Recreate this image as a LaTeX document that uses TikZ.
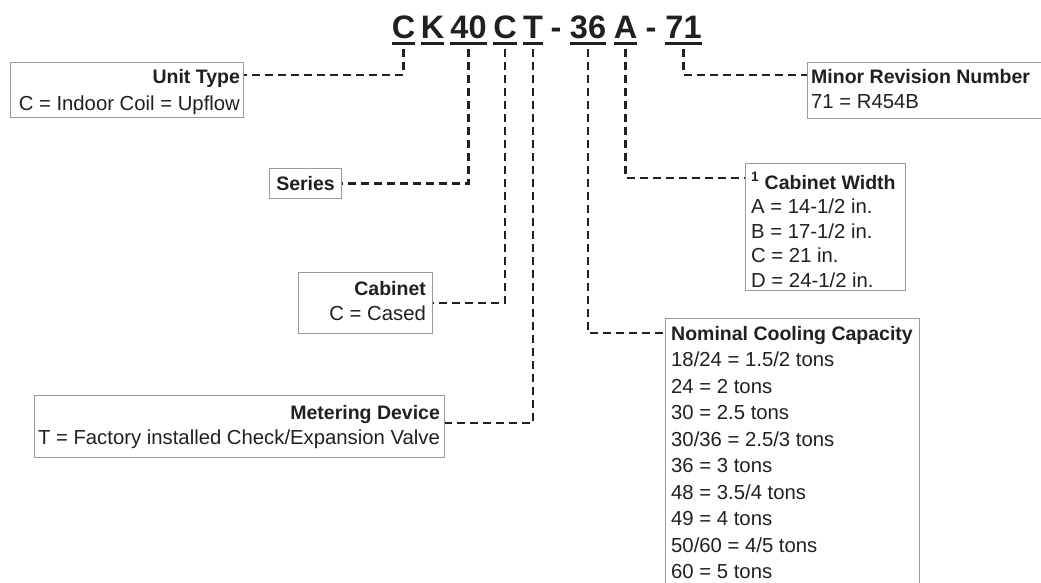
\documentclass[tikz,border=0pt]{standalone}
\usepackage{fontspec}
\setmainfont{Liberation Sans}
\definecolor{ink}{HTML}{231F20}
\definecolor{frame}{HTML}{9A9A9A}
\newcommand\hb{\fontsize{19.5}{25}\selectfont\bfseries}
\tikzset{
  code/.style={anchor=base, inner sep=0pt, text depth=0pt, text=ink,
    font=\fontsize{32.5}{32.5}\selectfont\bfseries},
  uline/.style={draw=ink, line width=2.6pt},
  dl/.style={draw=ink, line width=2.2pt, dash pattern=on 8pt off 5pt},
  boxframe/.style={draw=frame, line width=1.1pt, inner sep=0pt, anchor=north west},
  txt/.style={inner sep=0pt, text=ink},
}
\begin{document}
\begin{tikzpicture}[x=1pt,y=-1pt]
\useasboundingbox (0,0) rectangle (1041,582);
% code letters
\node[code] (c1) at (403.5,38) {C};
\node[code] (c2) at (432.5,38) {K};
\node[code] (c3) at (468.5,38) {40};
\node[code] (c4) at (505,38) {C};
\node[code] (c5) at (533,38) {T};
\node[code] (d1) at (556,38) {-};
\node[code] (c6) at (588,38) {36};
\node[code] (c7) at (625.5,38) {A};
\node[code] (d2) at (651,38) {-};
\node[code] (c8) at (683.5,38) {71};
\foreach \n in {c1,c2,c3,c4,c5,c6,c7,c8}
  \draw[uline] ([yshift=-5.5pt]\n.south west) -- ([yshift=-5.5pt]\n.south east);
% boxes
\node[boxframe, minimum width=233pt, minimum height=55pt] (unit) at (10,62) {};
\node[boxframe, minimum width=72pt, minimum height=30pt] (series) at (269,168) {};
\node[boxframe, minimum width=134pt, minimum height=61pt] (cab) at (298,272) {};
\node[boxframe, minimum width=410pt, minimum height=62pt] (meter) at (34,395) {};
\node[boxframe, minimum width=250pt, minimum height=56pt] (minor) at (807,62) {};
\node[boxframe, minimum width=160pt, minimum height=127pt] (width) at (745,163) {};
\node[boxframe, minimum width=254pt, minimum height=290pt] (nominal) at (665,318) {};
% texts
\node[txt, anchor=north east, align=right, font=\fontsize{20.3}{27}\selectfont]
  (unitT) at ([xshift=-4pt,yshift=-7pt]unit.north east)
  {{\hb Unit Type}\\C = Indoor Coil = Upflow};
\node[txt, font=\hb] (seriesT) at (series.center) {Series};
\node[txt, anchor=north east, align=right, font=\fontsize{20.3}{25}\selectfont]
  (cabT) at ([xshift=-7pt,yshift=-9pt]cab.north east)
  {{\hb Cabinet}\\C = Cased};
\node[txt, anchor=north east, align=right, font=\fontsize{20.3}{25}\selectfont]
  (meterT) at ([xshift=-5pt,yshift=-10pt]meter.north east)
  {{\hb Metering Device}\\T = Factory installed Check/Expansion Valve};
\node[txt, anchor=north west, align=left, font=\fontsize{20.3}{25}\selectfont]
  (minorT) at ([xshift=4pt,yshift=-7pt]minor.north west)
  {{\hb Minor Revision Number}\\71 = R454B};
\node[txt, anchor=north west, align=left, font=\fontsize{20.3}{24.5}\selectfont]
  (widthT) at ([xshift=6pt,yshift=-9pt]width.north west)
  {{\hb \textsuperscript{1} Cabinet Width}\\A = 14-1/2 in.\\B = 17-1/2 in.\\C = 21 in.\\D = 24-1/2 in.};
\node[txt, anchor=north west, align=left, font=\fontsize{20.3}{26.5}\selectfont]
  (nomT) at ([xshift=6pt,yshift=-8pt]nominal.north west)
  {{\hb Nominal Cooling Capacity}\\18/24 = 1.5/2 tons\\24 = 2 tons\\30 = 2.5 tons\\30/36 = 2.5/3 tons\\36 = 3 tons\\48 = 3.5/4 tons\\49 = 4 tons\\50/60 = 4/5 tons\\60 = 5 tons};
% connectors
\draw[dl] ([yshift=-11pt]c1.south) |- ([yshift=-13pt]unit.north east);
\draw[dl] ([yshift=-11pt]c3.south) |- (series.east);
\draw[dl] ([yshift=-11pt]c4.south) |- (cab.east);
\draw[dl] ([yshift=-11pt]c5.south) |- ([yshift=-28pt]meter.north east);
\draw[dl] ([yshift=-11pt]c6.south) |- ([yshift=-15pt]nominal.north west);
\draw[dl] ([yshift=-11pt]c7.south) |- ([yshift=-15pt]width.north west);
\draw[dl] ([yshift=-11pt]c8.south) |- ([yshift=-13pt]minor.north west);
\end{tikzpicture}
\end{document}
